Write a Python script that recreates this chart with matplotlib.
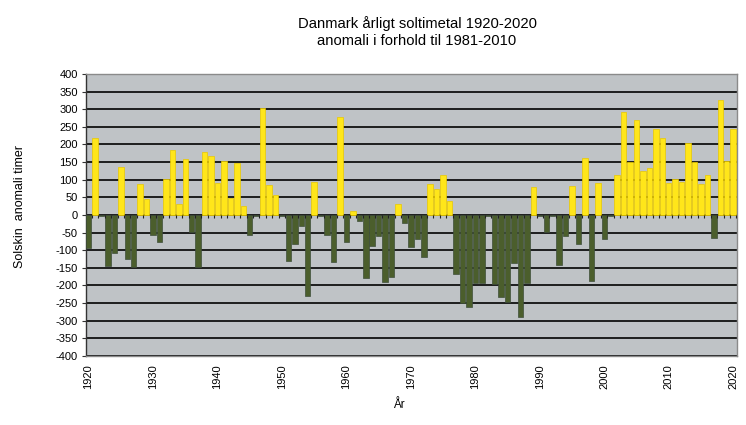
import matplotlib
matplotlib.use("Agg")
import matplotlib.pyplot as plt
import numpy as np

plt.rcParams['font.family'] = ['Liberation Sans', 'DejaVu Sans']

years = list(range(1920, 2021))
anomaly = [
    -94, 217, -3, -146, -108, 137, -125, -147, 89, 46,
    -58, -78, 101, 185, 31, 158, -47, -148, 180, 167,
    90, 153, 47, 148, 25, -58, -3, 303, 86, 57,
    -3, -130, -83, -31, -229, 93, -3, -58, -134, 277,
    -78, 10, -18, -178, -88, -59, -189, -175, 32, -24,
    -92, -69, -119, 89, 73, 113, 41, -168, -250, -261,
    -194, -193, -3, -195, -232, -246, -136, -288, -194, 78,
    -3, -47, -3, -142, -60, 83, -81, 161, -188, 90,
    -67, -3, 113, 292, 149, 269, 125, 134, 245, 217,
    92, 101, 94, 205, 151, 87, 113, -64, 325, 153,
    243,
]
yticks = list(range(-400, 401, 50))
xticks = list(range(1920, 2021, 10))

title = "Danmark årligt soltimetal 1920-2020\nanomali i forhold til 1981-2010"
ylabel = "Solskin  anomali timer"
xlabel = "År"

yrs = np.array(years)
vals = np.array(anomaly)
pos = vals >= 0

fig = plt.figure(figsize=(7.46, 4.25), dpi=100)
ax = fig.add_axes([0.1153, 0.1624, 0.8727, 0.6635])
ax.set_facecolor('#BFC3C6')

for y in yticks:
    ax.axhline(y, color='#111111', lw=1.3, zorder=1)

ax.bar(yrs[pos], vals[pos], width=0.85, color='#FFE61A', edgecolor='#E8C800',
       linewidth=0.5, zorder=3)
ax.bar(yrs[~pos], vals[~pos], width=0.85, color='#4B5E2C', edgecolor='#3E4E3A',
       linewidth=0.5, zorder=3)

# small category ticks on the zero line
ax.vlines(yrs + 0.5, 0, -8, color='#222222', lw=0.8, zorder=4)

ax.set_xlim(1919.6, 2020.6)
ax.set_ylim(-400, 400)
ax.set_yticks(yticks)
ax.set_yticklabels([str(v) for v in yticks], fontsize=8)
ax.set_xticks(xticks)
ax.set_xticklabels([str(v) for v in xticks], rotation=90, fontsize=8)
ax.tick_params(axis='x', length=0, pad=6)
ax.tick_params(axis='y', length=3, width=0.8, color='#333333', pad=3)

for s in ['top', 'right', 'bottom']:
    ax.spines[s].set_color('#8A8A8A')
    ax.spines[s].set_linewidth(1.0)
ax.spines['left'].set_color('#333333')
ax.spines['left'].set_linewidth(1.0)

fig.text(0.559, 0.962, title, ha='center', va='top', fontsize=10.6, linespacing=1.3)
fig.text(0.027, 0.515, ylabel, rotation=90, ha='center', va='center', fontsize=9)
fig.text(0.535, 0.047, xlabel, ha='center', va='center', fontsize=8.5)

fig.savefig('out.png', dpi=100, facecolor='white')
